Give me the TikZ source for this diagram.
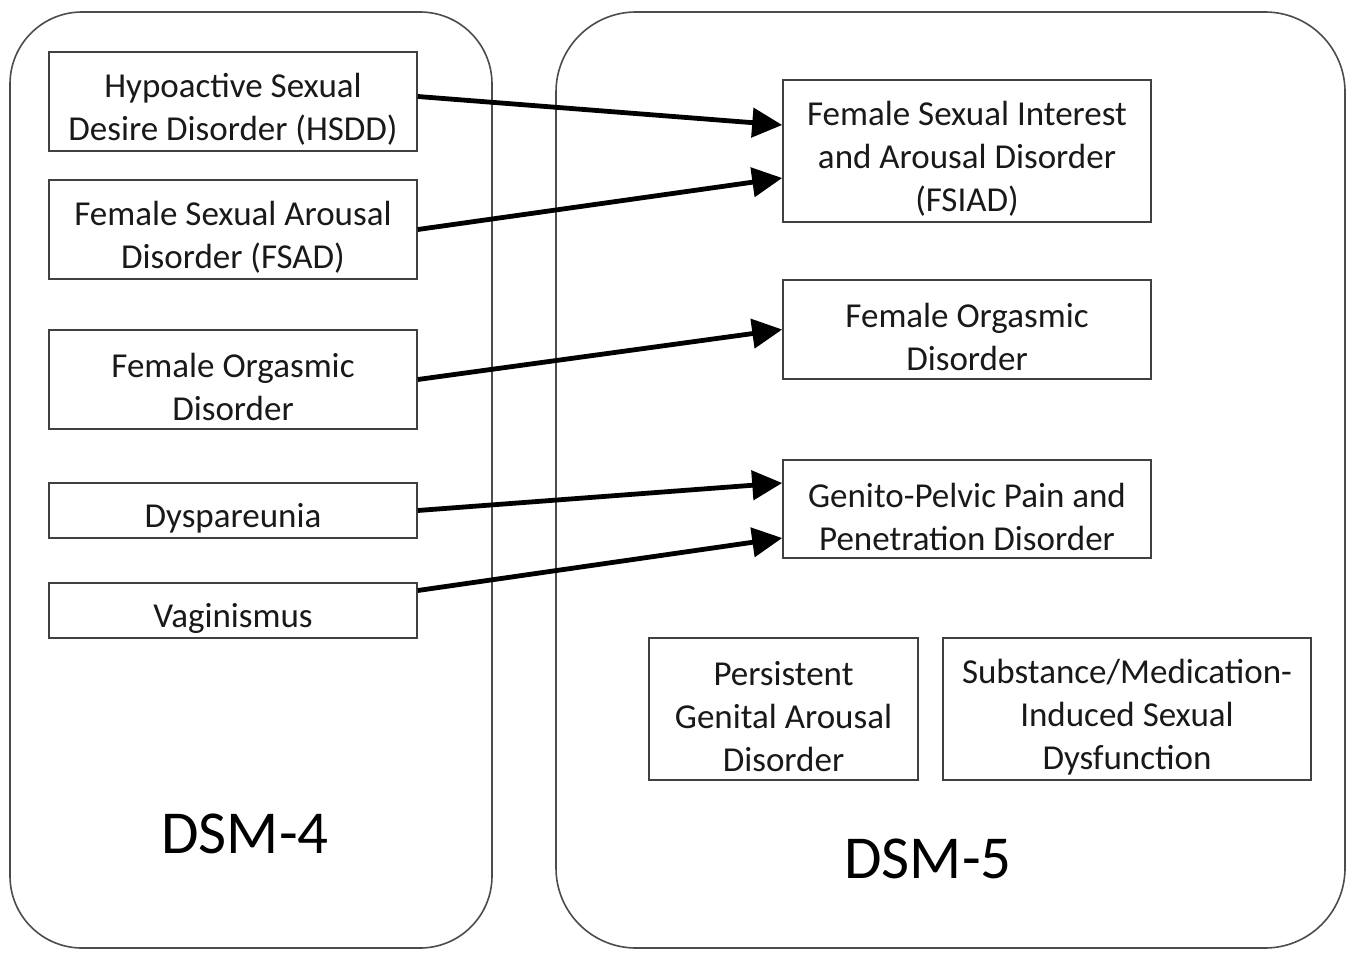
\documentclass[tikz,border=0pt]{standalone}
\usepackage{fontspec}
\setmainfont{Carlito}
\usetikzlibrary{arrows.meta}

\newcommand{\dxstrut}{\rule{0pt}{20pt}}
\tikzset{
  dxbox/.style={draw=black!75, line width=0.8pt, fill=white, align=center,
    inner sep=0pt, font=\fontsize{17.5}{21.5}\selectfont, text=black!90},
  maparrow/.style={line width=2.4pt, -{Triangle[length=15pt,width=14.5pt]}},
  panel/.style={draw=black!70, line width=0.8pt},
}

\begin{document}
\begin{tikzpicture}[x=0.5pt,y=-0.5pt]
    \useasboundingbox (0,0) rectangle (1352,952);
    \draw[panel, rounded corners=36pt] (10,12) rectangle (492,948);
    \draw[panel, rounded corners=40pt] (556,12) rectangle (1345,948);
    \node[font=\fontsize{30.5}{36}\selectfont] (dsmiv) at (245,834) {DSM-4};
    \node[font=\fontsize{30.5}{36}\selectfont] (dsmv) at (928,859) {DSM-5};

    \node[dxbox, minimum width=184pt, minimum height=49.5pt] (hsdd) at (233,101.5) {\dxstrut Hypoactive Sexual\\Desire Disorder (HSDD)};
    \node[dxbox, minimum width=184pt, minimum height=49.5pt] (fsad) at (233,229.5) {\dxstrut Female Sexual Arousal\\Disorder (FSAD)};
    \node[dxbox, minimum width=184pt, minimum height=49.5pt] (fodiv) at (233,379.5) {\dxstrut Female Orgasmic\\Disorder};
    \node[dxbox, minimum width=184pt, minimum height=27.5pt] (dysp) at (233,510.5) {\dxstrut Dyspareunia};
    \node[dxbox, minimum width=184pt, minimum height=27.5pt] (vagin) at (233,610.5) {\dxstrut Vaginismus};

    \node[dxbox, minimum width=184pt, minimum height=71pt] (fsiad) at (967,151) {\dxstrut Female Sexual Interest\\and Arousal Disorder\\(FSIAD)};
    \node[dxbox, minimum width=184pt, minimum height=49.5pt] (fodv) at (967,329.5) {\dxstrut Female Orgasmic\\Disorder};
    \node[dxbox, minimum width=184pt, minimum height=49pt] (gppd) at (967,509) {\dxstrut Genito-Pelvic Pain and\\Penetration Disorder};
    \node[dxbox, minimum width=134.5pt, minimum height=71pt] (pgad) at (783.5,709) {\dxstrut Persistent\\Genital Arousal\\Disorder};
    \node[dxbox, minimum width=184pt, minimum height=71pt] (smisd) at (1127,709) {\dxstrut Substance/Medication-\\Induced Sexual\\Dysfunction};

    \draw[maparrow] ([yshift=2.5pt]hsdd.east) -- ([yshift=13pt]fsiad.west);
    \draw[maparrow] (fsad.east) -- ([yshift=-13.5pt]fsiad.west);
    \draw[maparrow] (fodiv.east) -- (fodv.west);
    \draw[maparrow] (dysp.east) -- ([yshift=13pt]gppd.west);
    \draw[maparrow] ([yshift=10pt]vagin.east) -- ([yshift=-14.5pt]gppd.west);
\end{tikzpicture}
\end{document}
